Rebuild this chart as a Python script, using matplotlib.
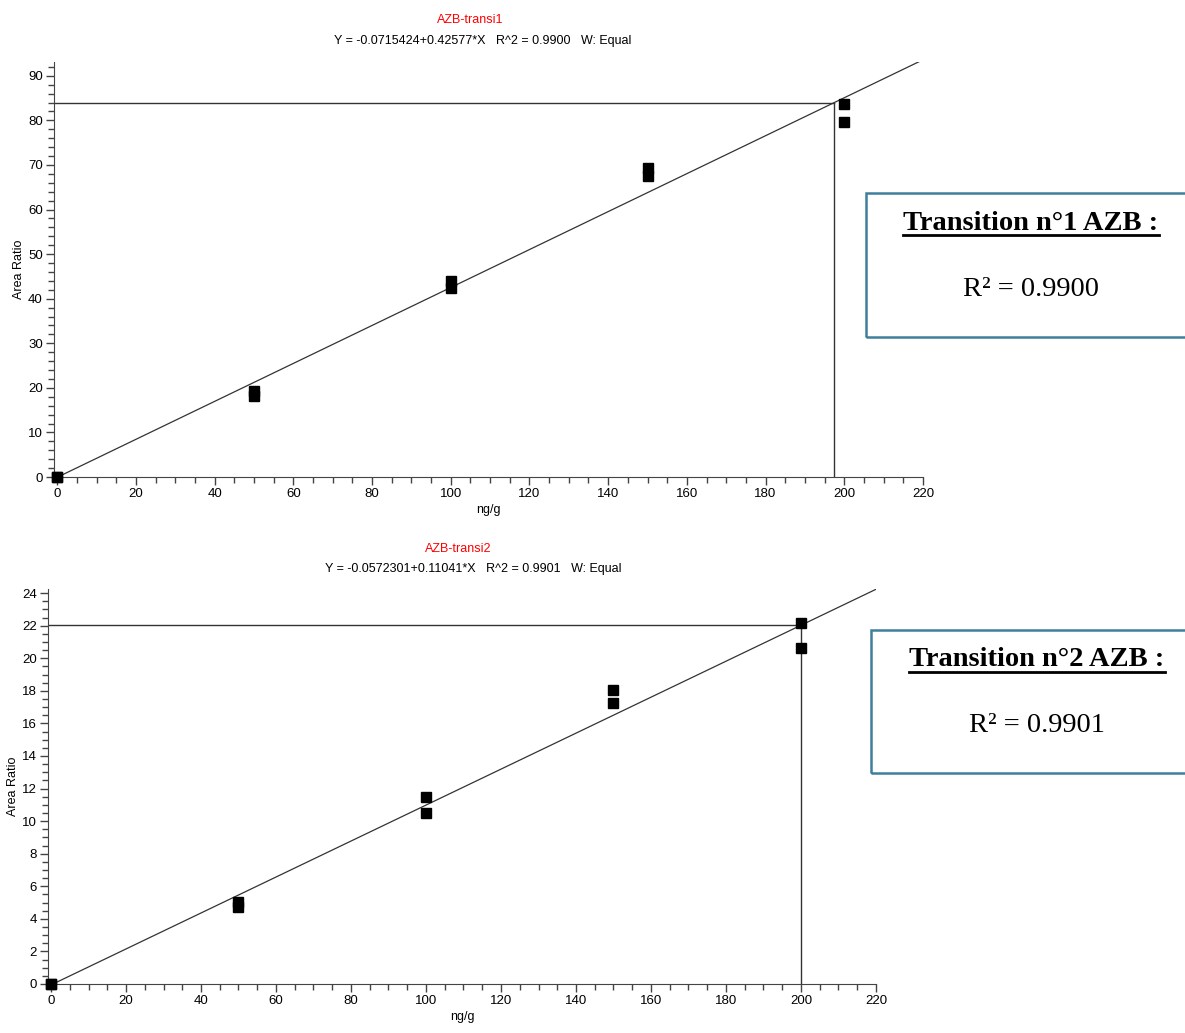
import matplotlib
matplotlib.use("Agg")
import matplotlib.pyplot as plt
from matplotlib.ticker import MultipleLocator
from matplotlib.lines import Line2D
from matplotlib.patches import Rectangle

plt.rcParams['font.family'] = ['Liberation Sans', 'DejaVu Sans']

# Calibration points (concentration ng/g, area ratio), two replicates per level
conc = [0, 0, 50, 50, 100, 100, 150, 150, 200, 200]
ratio1 = [0, 0, 19.3, 18.2, 44.0, 42.4, 69.3, 67.6, 83.7, 79.6]
ratio2 = [0, 0, 5.05, 4.75, 11.5, 10.5, 18.05, 17.25, 22.15, 20.6]

# Fit coefficients (intercept, slope)
fit1 = (-0.0715424, 0.42577)
fit2 = (-0.0572301, 0.11041)

# Crosshair marks (x, y)
cross1 = (197.5, 84.0)
cross2 = (200.0, 22.05)

names = ["AZB-transi1", "AZB-transi2"]
equations = ["Y = -0.0715424+0.42577*X   R^2 = 0.9900   W: Equal",
             "Y = -0.0572301+0.11041*X   R^2 = 0.9901   W: Equal"]
box_titles = ["Transition n°1 AZB :", "Transition n°2 AZB :"]
box_values = ["R² = 0.9900", "R² = 0.9901"]

W, H = 1185, 1033
fig = plt.figure(figsize=(W / 100, H / 100), dpi=100)


def px(x, y):
    # pixel coords -> figure fraction
    return x / W, 1 - y / H


def draw_panel(rect, x, y, fit, cross, ymax, ymajor, yminor, msize):
    ax = fig.add_axes(rect)
    a, b = fit
    xs = [0, 220]
    ax.plot(xs, [a + b * v for v in xs], color='#333333', lw=0.9, zorder=2)
    ax.plot([-1, cross[0]], [cross[1], cross[1]], color='#333333', lw=1.0, zorder=2)
    ax.plot([cross[0], cross[0]], [0, cross[1]], color='#333333', lw=1.0, zorder=2)
    ax.plot(x, y, 's', color='black', ms=msize, ls='none', clip_on=False, zorder=3)

    ax.set_xlim(-0.8, 220)
    ax.set_ylim(0, ymax)
    ax.xaxis.set_major_locator(MultipleLocator(20))
    ax.xaxis.set_minor_locator(MultipleLocator(5))
    ax.yaxis.set_major_locator(MultipleLocator(ymajor))
    ax.yaxis.set_minor_locator(MultipleLocator(yminor))
    ax.tick_params(which='major', direction='out', length=6, width=1,
                   color='#444444', labelsize=9.5, pad=2)
    ax.tick_params(which='minor', direction='out', length=4, width=1, color='#444444')
    for s in ['top', 'right']:
        ax.spines[s].set_visible(False)
    for s in ['left', 'bottom']:
        ax.spines[s].set_color('#444444')
    ax.set_xlabel('ng/g', fontsize=9, labelpad=3)
    ax.set_ylabel('Area Ratio', fontsize=9, labelpad=2)
    return ax


ax1 = draw_panel([54 / W, 1 - 477 / H, (923 - 54) / W, (477 - 62) / H],
                 conc, ratio1, fit1, cross1, 93.1, 10, 2, 7.8)
ax2 = draw_panel([48 / W, 1 - 984 / H, (876 - 48) / W, (984 - 589) / H],
                 conc, ratio2, fit2, cross2, 24.25, 2, 0.5, 7.5)

# Titles above each panel
fig.text(*px(470, 20), names[0], color='red', fontsize=9, ha='center', va='center')
fig.text(*px(483, 41), equations[0], fontsize=9, ha='center', va='center')
fig.text(*px(458, 549), names[1], color='red', fontsize=9, ha='center', va='center')
fig.text(*px(473, 569), equations[1], fontsize=9, ha='center', va='center')

# Boxes on the right
serif = ['Liberation Serif', 'DejaVu Serif']
boxes = [(866, 193, 337, 1031, 223, 289), (871, 630, 773, 1037, 660, 725)]
titles = []
for (bx, top, bot, cx, ty, vy), t, v in zip(boxes, box_titles, box_values):
    x0, y0 = px(bx, bot)
    fig.patches.append(Rectangle((x0, y0), (W + 20 - bx) / W, (bot - top) / H,
                                 transform=fig.transFigure, fill=False,
                                 edgecolor='#3f7f9c', lw=1.8, clip_on=False))
    titles.append(fig.text(*px(cx, ty), t, family=serif, fontsize=20.5,
                           fontweight='bold', ha='center', va='center'))
    fig.text(*px(cx, vy), v, family=serif, fontsize=20.5, ha='center', va='center')

# Underline the box titles
fig.canvas.draw()
r = fig.canvas.get_renderer()
for t in titles:
    bb = t.get_window_extent(r)
    yl = bb.y0 + 1
    fig.lines.append(Line2D([bb.x0 / W, bb.x1 / W], [yl / H, yl / H],
                            transform=fig.transFigure, color='black', lw=2))

fig.savefig('out.png', dpi=100)
